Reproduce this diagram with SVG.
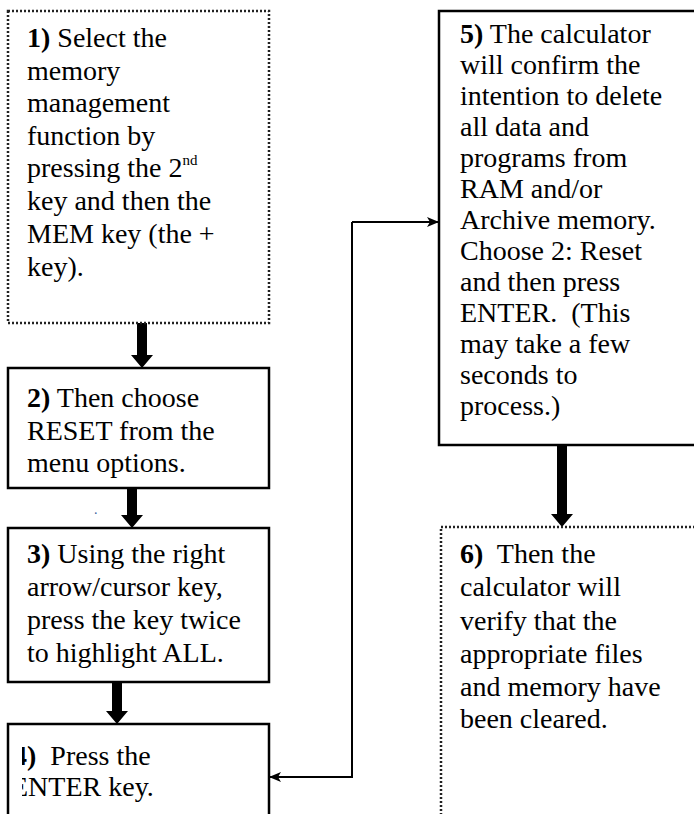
<svg xmlns="http://www.w3.org/2000/svg" width="694" height="814" viewBox="0 0 694 814">
<style>
.box{fill:#fff;stroke:#000;stroke-width:2.5}
.dot{fill:#fff;stroke:#222;stroke-width:2.5;stroke-dasharray:2 2}
text{font-family:'Liberation Serif','Tinos','Times New Roman','DejaVu Serif',serif;font-size:28px;fill:#000;white-space:pre}
.b{font-weight:bold}
.conn{fill:none;stroke:#000;stroke-width:2}
.big{fill:#000}
</style>
<defs>
<marker id="ah" markerWidth="12" markerHeight="10" refX="11" refY="5" orient="auto" markerUnits="userSpaceOnUse">
<path d="M0,0 L12,5 L0,10 L3,5 Z" fill="#000"/>
</marker>
<clipPath id="clip4"><rect x="22" y="724" width="250" height="100"/></clipPath>
</defs>
<rect width="694" height="814" fill="#fff"/>

<g id="connectors">
<path class="big" d="M137,323 H147 V355 H153 L142,368 L131,355 H137 Z"/>
<path class="big" d="M127,488 H137 V515 H143 L132,528 L121,515 H127 Z"/>
<path class="big" d="M112,682 H122 V711 H128 L117,724 L106,711 H112 Z"/>
<path class="big" d="M557,445 H567 V514 H573 L562,527 L551,514 H557 Z"/>
<path class="conn" d="M352,222 H438" marker-end="url(#ah)"/>
<path class="conn" d="M352,222 V777 H270" marker-end="url(#ah)"/>
</g>

<g id="node1">
<rect class="dot" x="8" y="11" width="261" height="312"/>
<text x="27" y="47" font-family="Liberation Serif, serif"><tspan class="b">1)</tspan> Select the</text>
<text x="27" y="80">memory</text>
<text x="27" y="112">management</text>
<text x="27" y="145">function by</text>
<text x="27" y="177">pressing the 2<tspan font-size="15" dy="-12">nd</tspan></text>
<text x="27" y="210">key and then the</text>
<text x="27" y="243">MEM key (the +</text>
<text x="27" y="276">key).</text>
</g>

<g id="node2">
<rect class="box" x="8" y="368" width="261" height="120"/>
<text x="27" y="407"><tspan class="b">2)</tspan> Then choose</text>
<text x="27" y="440">RESET from the</text>
<text x="27" y="472">menu options.</text>
</g>

<text x="94" y="514" style="font-size:14px;fill:#3a5f9f">.</text>

<g id="node3">
<rect class="box" x="8" y="528" width="261" height="154"/>
<text x="27" y="563"><tspan class="b">3)</tspan> Using the right</text>
<text x="27" y="596">arrow/cursor key,</text>
<text x="27" y="629">press the key twice</text>
<text x="27" y="662">to highlight ALL.</text>
</g>

<g id="node4">
<rect class="box" x="8" y="724" width="261" height="110"/>
<g clip-path="url(#clip4)">
<text x="13" y="765"><tspan class="b">4)</tspan>  Press the</text>
<text x="11" y="796">ENTER key.</text>
</g>
</g>

<g id="node5">
<rect class="box" x="439" y="11" width="270" height="434"/>
<text x="460" y="43"><tspan class="b">5)</tspan> The calculator</text>
<text x="460" y="74">will confirm the</text>
<text x="460" y="105">intention to delete</text>
<text x="460" y="136">all data and</text>
<text x="460" y="167">programs from</text>
<text x="460" y="198">RAM and/or</text>
<text x="460" y="229">Archive memory.</text>
<text x="460" y="260">Choose 2: Reset</text>
<text x="460" y="291">and then press</text>
<text x="460" y="322">ENTER.  (This</text>
<text x="460" y="353">may take a few</text>
<text x="460" y="384">seconds to</text>
<text x="460" y="415">process.)</text>
</g>

<g id="node6">
<rect class="dot" x="441" y="527" width="270" height="300"/>
<text x="460" y="563"><tspan class="b">6)</tspan>  Then the</text>
<text x="460" y="596">calculator will</text>
<text x="460" y="630">verify that the</text>
<text x="460" y="663">appropriate files</text>
<text x="460" y="696">and memory have</text>
<text x="460" y="728">been cleared.</text>
</g>
</svg>
